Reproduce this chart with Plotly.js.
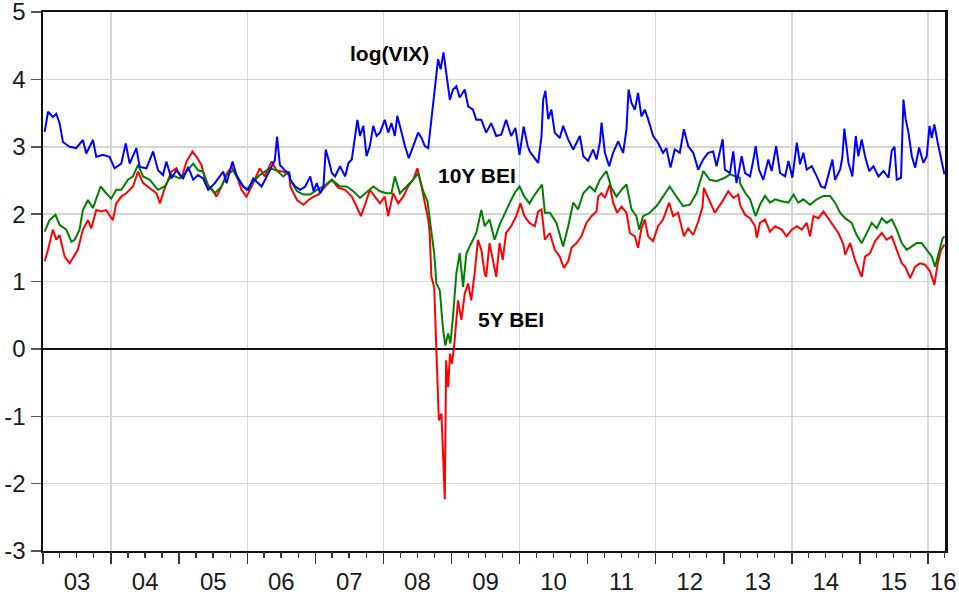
<!DOCTYPE html>
<html>
<head>
<meta charset="utf-8">
<script src="https://cdn.plot.ly/plotly-3.0.1.min.js"></script>
<style>html,body{margin:0;padding:0;background:#fff;}#chart{width:959px;height:595px;}</style>
</head>
<body>
<div id="chart"></div>
<script>
// Time in decimal years
const vixT = [2003.025,2003.074,2003.147,2003.196,2003.245,2003.294,2003.392,2003.490,2003.588,2003.637,2003.735,2003.784,2003.882,2003.980,2004.054,2004.152,2004.216,2004.275,2004.373,2004.422,2004.520,2004.618,2004.691,2004.765,2004.814,2004.887,2004.961,2005.059,2005.132,2005.206,2005.279,2005.353,2005.426,2005.525,2005.647,2005.696,2005.784,2005.843,2005.941,2006.015,2006.088,2006.211,2006.333,2006.407,2006.441,2006.480,2006.554,2006.618,
2006.634,2006.707,2006.780,2006.854,2006.927,2006.976,2007.024,2007.073,2007.122,2007.156,2007.195,2007.244,2007.293,2007.366,2007.439,2007.488,2007.537,2007.585,2007.620,2007.659,2007.707,2007.756,2007.805,2007.854,2007.902,2007.951,2008.024,2008.073,2008.122,2008.171,2008.205,2008.268,2008.317,2008.376,2008.439,2008.512,2008.561,2008.610,2008.659,2008.707,2008.756,2008.805,2008.844,2008.883,2008.927,2008.976,2009.024,2009.073,2009.122,2009.195,2009.244,2009.317,2009.366,2009.439,2009.512,2009.585,2009.659,2009.732,2009.805,2009.878,2009.941,2010.000,2010.063,2010.122,
2010.153,2010.226,2010.275,2010.324,2010.349,2010.383,2010.422,2010.471,2010.520,2010.594,2010.643,2010.716,2010.790,2010.888,2010.937,2011.010,2011.083,2011.132,2011.181,2011.206,2011.255,2011.319,2011.377,2011.451,2011.524,2011.573,2011.603,2011.647,2011.696,2011.745,2011.794,2011.843,2011.892,2011.965,2012.038,2012.112,2012.161,2012.220,2012.283,2012.357,2012.416,2012.479,2012.553,2012.626,2012.699,2012.773,2012.846,2012.895,2012.984,2013.018,2013.091,2013.140,2013.189,
2013.216,2013.265,2013.314,2013.387,2013.436,2013.471,2013.520,2013.583,2013.657,2013.706,2013.770,2013.828,2013.902,2013.951,2014.010,2014.074,2014.123,2014.172,2014.221,2014.294,2014.368,2014.431,2014.490,2014.554,2014.598,2014.637,2014.711,2014.745,2014.775,2014.833,2014.892,2014.941,2014.980,2015.029,2015.078,2015.137,2015.201,2015.275,2015.348,2015.422,2015.471,2015.510,2015.544,2015.608,2015.642,2015.676,2015.716,2015.765,2015.814,2015.873,2015.936,2015.985,2016.025,2016.059,2016.098,2016.147,2016.196,2016.245];
const vixV = [3.22,3.52,3.44,3.49,3.35,3.07,3.00,2.98,3.10,2.90,3.10,2.85,2.88,2.85,2.68,2.75,3.05,2.75,2.98,2.70,2.68,2.93,2.65,2.58,2.78,2.53,2.65,2.53,2.70,2.51,2.58,2.53,2.36,2.46,2.63,2.46,2.78,2.58,2.41,2.36,2.53,2.41,2.65,2.80,3.15,2.73,2.65,2.60,
2.51,2.41,2.36,2.41,2.56,2.34,2.46,2.31,2.41,2.96,2.81,2.61,2.56,2.71,2.56,2.76,2.81,3.11,3.40,3.16,3.31,2.86,3.01,3.31,3.16,3.21,3.40,3.21,3.35,3.16,3.46,3.21,3.01,2.83,3.01,3.21,3.13,3.01,2.98,3.45,3.85,4.30,4.15,4.40,4.10,3.70,3.85,3.90,3.73,3.85,3.60,3.55,3.40,3.40,3.21,3.35,3.16,3.18,3.40,3.16,3.28,2.88,3.30,3.01,
2.93,2.83,2.76,3.16,3.70,3.83,3.41,3.55,3.21,3.13,3.31,3.11,2.96,3.16,2.86,2.79,2.96,2.81,3.06,3.36,2.91,2.71,2.91,3.08,2.91,3.26,3.85,3.65,3.55,3.80,3.45,3.55,3.41,3.16,3.06,2.91,2.98,2.69,2.96,2.91,3.26,3.01,2.91,2.66,2.81,2.91,2.93,2.71,3.11,2.66,2.61,2.93,2.46,
2.59,2.86,2.61,2.56,2.81,3.01,2.66,2.51,2.81,2.64,3.01,2.61,2.56,2.79,2.54,3.06,2.74,2.91,2.66,2.71,2.56,2.41,2.39,2.66,2.81,2.51,2.66,2.84,3.27,2.76,2.56,3.16,2.86,3.11,2.86,2.64,2.71,2.56,2.64,2.54,2.94,3.00,2.51,2.54,3.70,3.41,3.21,2.86,2.69,2.99,2.76,2.86,3.31,3.13,3.33,3.06,2.81,2.59];

const bei5T = [2003.025,2003.074,2003.147,2003.196,2003.245,2003.319,2003.392,2003.441,2003.515,2003.588,2003.662,2003.711,2003.784,2003.858,2003.931,2004.029,2004.078,2004.152,2004.225,2004.324,2004.397,2004.471,2004.569,2004.667,2004.716,2004.789,2004.887,2004.961,2005.034,2005.108,2005.196,2005.255,2005.328,2005.402,2005.475,2005.549,2005.623,2005.696,2005.770,2005.843,2005.917,2005.990,2006.088,2006.186,2006.260,2006.358,2006.431,2006.529,2006.618,
2006.634,2006.732,2006.829,2006.902,2006.976,2007.049,2007.146,2007.244,2007.341,2007.439,2007.537,2007.610,2007.673,2007.732,2007.805,2007.878,2007.951,2008.024,2008.073,2008.146,2008.220,2008.293,2008.366,2008.439,2008.502,2008.561,2008.610,2008.659,2008.683,2008.707,2008.746,2008.780,2008.815,2008.854,2008.878,2008.902,2008.922,2008.951,2008.980,2009.010,2009.049,2009.098,2009.146,2009.195,2009.244,2009.293,2009.341,2009.390,2009.439,2009.488,2009.512,2009.561,2009.610,2009.659,2009.707,2009.756,2009.805,2009.878,2009.951,2010.015,2010.073,2010.146,
2010.226,2010.275,2010.324,2010.373,2010.447,2010.520,2010.594,2010.653,2010.716,2010.765,2010.839,2010.912,2010.986,2011.059,2011.132,2011.157,2011.206,2011.255,2011.328,2011.377,2011.436,2011.500,2011.573,2011.622,2011.696,2011.745,2011.794,2011.843,2011.892,2011.965,2012.038,2012.112,2012.200,2012.259,2012.332,2012.416,2012.479,2012.553,2012.626,2012.690,2012.709,2012.773,2012.871,2012.969,2013.067,2013.140,2013.214,
2013.240,2013.314,2013.387,2013.461,2013.485,2013.534,2013.608,2013.681,2013.755,2013.853,2013.926,2014.000,2014.074,2014.147,2014.221,2014.270,2014.319,2014.392,2014.466,2014.539,2014.613,2014.686,2014.760,2014.784,2014.858,2014.931,2015.029,2015.078,2015.152,2015.225,2015.324,2015.397,2015.471,2015.544,2015.618,2015.667,2015.740,2015.814,2015.887,2015.961,2016.034,2016.098,2016.147,2016.196,2016.245];
const bei5V = [1.30,1.47,1.77,1.62,1.69,1.37,1.27,1.35,1.47,1.77,1.91,1.79,2.06,2.04,2.06,1.91,2.16,2.26,2.31,2.41,2.63,2.46,2.38,2.31,2.16,2.38,2.63,2.68,2.53,2.78,2.93,2.85,2.73,2.43,2.38,2.26,2.41,2.60,2.70,2.58,2.36,2.26,2.46,2.68,2.56,2.78,2.65,2.63,2.58,
2.41,2.21,2.14,2.21,2.26,2.29,2.41,2.51,2.39,2.36,2.26,2.11,1.97,2.14,2.36,2.26,2.16,2.26,1.97,2.31,2.16,2.26,2.41,2.51,2.68,2.41,2.16,1.92,1.72,1.07,0.92,0.03,-1.06,-0.96,-1.76,-2.23,-0.17,-0.57,-0.07,-0.22,0.13,0.72,0.43,0.82,0.97,0.72,1.12,1.62,1.47,1.12,1.07,1.57,1.32,1.07,1.57,1.32,1.72,1.82,1.97,2.16,1.97,1.87,
1.82,2.04,2.07,1.62,1.72,1.47,1.37,1.20,1.30,1.50,1.57,1.67,1.87,1.97,2.04,2.26,2.31,2.24,2.44,2.17,2.02,2.11,2.02,1.72,1.67,1.50,1.79,1.92,1.67,1.60,1.82,1.92,2.17,1.97,2.02,1.67,1.79,1.69,1.89,2.11,2.39,2.24,2.02,2.17,2.34,2.24,2.29,
2.14,1.99,1.94,1.82,1.65,1.87,1.92,1.74,1.82,1.77,1.67,1.77,1.82,1.77,1.87,1.67,1.97,1.94,2.04,1.94,1.82,1.72,1.55,1.40,1.57,1.32,1.07,1.37,1.42,1.60,1.72,1.62,1.67,1.47,1.27,1.22,1.05,1.22,1.27,1.25,1.15,0.95,1.27,1.47,1.55];

const bei10T = [2003.025,2003.098,2003.186,2003.245,2003.343,2003.417,2003.466,2003.539,2003.588,2003.662,2003.735,2003.784,2003.848,2003.931,2004.005,2004.078,2004.152,2004.250,2004.324,2004.397,2004.471,2004.569,2004.691,2004.789,2004.887,2005.010,2005.108,2005.206,2005.279,2005.353,2005.426,2005.525,2005.623,2005.696,2005.794,2005.868,2005.990,2006.088,2006.186,2006.333,2006.431,2006.529,2006.618,
2006.634,2006.732,2006.829,2006.927,2007.024,2007.122,2007.244,2007.366,2007.463,2007.561,2007.659,2007.732,2007.854,2007.951,2008.049,2008.122,2008.171,2008.244,2008.341,2008.439,2008.512,2008.585,2008.649,2008.698,2008.746,2008.780,2008.829,2008.878,2008.912,2008.951,2008.985,2009.024,2009.073,2009.122,2009.171,2009.220,2009.293,2009.366,2009.439,2009.488,2009.561,2009.634,2009.707,2009.780,2009.854,2009.927,2010.000,2010.073,2010.146,
2010.226,2010.300,2010.334,2010.373,2010.447,2010.545,2010.643,2010.716,2010.790,2010.863,2010.937,2011.034,2011.108,2011.181,2011.279,2011.353,2011.426,2011.500,2011.573,2011.647,2011.720,2011.759,2011.818,2011.916,2012.014,2012.112,2012.210,2012.308,2012.406,2012.504,2012.602,2012.700,2012.797,2012.895,2013.018,2013.091,2013.238,
2013.240,2013.314,2013.387,2013.471,2013.534,2013.608,2013.681,2013.755,2013.853,2013.951,2014.025,2014.098,2014.172,2014.270,2014.368,2014.466,2014.564,2014.637,2014.711,2014.784,2014.882,2014.956,2015.029,2015.103,2015.176,2015.250,2015.324,2015.397,2015.471,2015.544,2015.618,2015.691,2015.765,2015.838,2015.912,2015.985,2016.059,2016.108,2016.167,2016.216,2016.245];
const bei10V = [1.74,1.91,1.99,1.84,1.77,1.59,1.62,1.77,2.06,2.21,2.09,2.23,2.41,2.31,2.23,2.36,2.36,2.51,2.56,2.73,2.56,2.51,2.36,2.41,2.58,2.53,2.63,2.75,2.65,2.63,2.43,2.31,2.41,2.58,2.65,2.51,2.36,2.48,2.58,2.68,2.65,2.56,2.63,
2.51,2.34,2.29,2.29,2.36,2.41,2.51,2.41,2.41,2.34,2.24,2.31,2.41,2.34,2.31,2.31,2.56,2.31,2.41,2.51,2.61,2.34,2.19,1.82,1.42,0.97,0.87,0.28,0.05,0.23,0.08,0.48,1.12,1.42,0.92,1.42,1.57,1.72,2.06,1.82,1.92,1.62,1.84,2.01,2.16,2.31,2.41,2.26,2.16,
2.29,2.39,2.44,2.02,2.02,1.87,1.52,1.82,2.17,2.07,2.31,2.41,2.34,2.51,2.64,2.39,2.26,2.36,2.44,2.07,1.97,1.77,1.97,2.02,2.12,2.26,2.41,2.26,2.12,2.14,2.31,2.64,2.51,2.49,2.54,2.59,2.54,
2.46,2.32,2.22,1.97,2.14,2.27,2.17,2.22,2.19,2.17,2.29,2.17,2.22,2.14,2.22,2.27,2.27,2.17,2.02,1.94,1.87,1.69,1.57,1.72,1.87,1.79,1.94,1.87,1.92,1.77,1.57,1.47,1.52,1.57,1.57,1.47,1.37,1.22,1.47,1.64,1.67];

// Axis tick values and labels
const yTickVals = [-3, -2, -1, 0, 1, 2, 3, 4, 5];
const yTickText = ['-3', '-2', '-1', '0', '1', '2', '3', '4', '5'];
const yearLabelFormat = '%y';
const lastYearLabel = '16';

function toDate(t) {
  const y = Math.floor(t);
  const a = Date.UTC(y, 0, 1), b = Date.UTC(y + 1, 0, 1);
  return new Date(a + (t - y) * (b - a)).toISOString().slice(0, 10);
}

const xRange = ['2003-01-01', '2016-04-02'];
const fontFam = 'Arial, "Liberation Sans", sans-serif';
const labelFont = {size: 24, color: '#1a1a1a', family: fontFam};
const noteFont = {size: 21, color: '#000', family: fontFam, weight: 'bold'};

const traces = [
  {x: bei5T.map(toDate), y: bei5V, type: 'scatter', mode: 'lines', name: '5Y BEI',
   line: {color: '#ff0000', width: 2}, xaxis: 'x', yaxis: 'y'},
  {x: bei10T.map(toDate), y: bei10V, type: 'scatter', mode: 'lines', name: '10Y BEI',
   line: {color: '#008000', width: 2}, xaxis: 'x', yaxis: 'y'},
  {x: vixT.map(toDate), y: vixV, type: 'scatter', mode: 'lines', name: 'log(VIX)',
   line: {color: '#0000ff', width: 2}, xaxis: 'x2', yaxis: 'y'}
];

const layout = {
  width: 959, height: 595,
  margin: {l: 43, r: 14, t: 12, b: 44},
  paper_bgcolor: '#fff', plot_bgcolor: '#fff',
  showlegend: false,
  font: {family: fontFam, color: '#1a1a1a'},
  xaxis: {
    type: 'date', range: xRange,
    dtick: 'M24', tick0: '2004-01-01',
    showgrid: true, gridcolor: '#d6d6d6', gridwidth: 1.5,
    showticklabels: false, ticks: '',
    showline: true, mirror: true, linecolor: '#111', linewidth: 2,
    zeroline: false
  },
  xaxis2: {
    type: 'date', range: xRange, overlaying: 'x', anchor: 'y', side: 'bottom',
    dtick: 'M12', tick0: '2003-01-01', tickformat: yearLabelFormat,
    ticklabelmode: 'period', ticklabeloverflow: 'allow', ticklabelstandoff: -3,
    showgrid: false, showline: false, zeroline: false,
    ticks: 'outside', ticklen: 12, tickwidth: 1.5, tickcolor: '#333',
    tickfont: labelFont,
    minor: {dtick: 'M3', ticks: 'outside', ticklen: 6, tickwidth: 1.2, tickcolor: '#333', showgrid: false}
  },
  yaxis: {
    range: [-3, 5], tickmode: 'array', tickvals: yTickVals, ticktext: yTickText,
    ticklabeloverflow: 'allow',
    showgrid: true, gridcolor: '#d6d6d6', gridwidth: 1.5,
    zeroline: true, zerolinecolor: '#111', zerolinewidth: 2.5,
    showline: true, mirror: true, linecolor: '#111', linewidth: 2.5,
    ticks: 'outside', ticklen: 10, tickwidth: 1.5, tickcolor: '#555',
    tickfont: labelFont
  },
  annotations: [
    {x: '2008-02-01', y: 4.39, xref: 'x', yref: 'y', text: 'log(VIX)', showarrow: false, font: noteFont},
    {x: '2009-05-17', y: 2.58, xref: 'x', yref: 'y', text: '10Y BEI', showarrow: false, font: noteFont},
    {x: '2009-11-15', y: 0.43, xref: 'x', yref: 'y', text: '5Y BEI', showarrow: false, font: noteFont},
    // label of the partial final year, which lies past the plotted range
    {x: 1.0155, y: -0.0575, xref: 'paper', yref: 'paper', text: lastYearLabel, showarrow: false,
     xanchor: 'right', yanchor: 'middle', font: labelFont}
  ]
};

Plotly.newPlot('chart', traces, layout, {displayModeBar: false, staticPlot: true});
</script>
</body>
</html>
